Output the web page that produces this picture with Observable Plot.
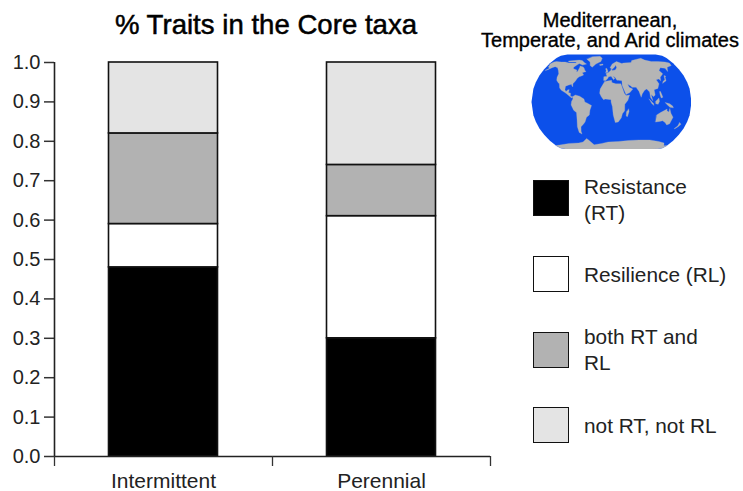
<!DOCTYPE html>
<html>
<head>
<meta charset="utf-8">
<script src="https://cdn.jsdelivr.net/npm/d3@7"></script>
<script src="https://cdn.jsdelivr.net/npm/@observablehq/plot@0.6"></script>
<style>
html,body{margin:0;padding:0;background:#fff;}
#root{position:relative;width:743px;height:491px;overflow:hidden;font-family:"Liberation Sans",Arial,sans-serif;}
#chart,#map{position:absolute;}
#chart{left:0;top:0;}
#map{left:531px;top:54px;}
.t{position:absolute;white-space:nowrap;}
#title{left:66px;width:400px;top:10px;text-align:center;font-size:27.6px;color:#000;-webkit-text-stroke:.5px #000;line-height:30px;}
#mapTitle{left:460px;width:300px;top:10px;text-align:center;font-size:20px;line-height:20px;color:#000;-webkit-text-stroke:.35px #000;}
.sw{position:absolute;left:533px;width:34px;height:34px;border:1.5px solid #111;}
.lab{position:absolute;left:584px;font-size:20.8px;line-height:26px;color:#222;}
</style>
</head>
<body>
<div id="root"></div>
<script>
const categories = ["Intermittent", "Perennial"];
const traits = ["Resistance (RT)", "Resilience (RL)", "both RT and RL", "not RT, not RL"];
const legendLines = [["Resistance", "(RT)"], ["Resilience (RL)"], ["both RT and", "RL"], ["not RT, not RL"]];
const traitColors = ["#000000", "#ffffff", "#b2b2b2", "#e4e4e4"];
const intermittent = [0.48, 0.11, 0.23, 0.18];
const perennial = [0.30, 0.31, 0.13, 0.26];
const yTicks = [0, 0.1, 0.2, 0.3, 0.4, 0.5, 0.6, 0.7, 0.8, 0.9, 1];
const xBoundaries = [0, 1, 2];

// Coarse continent outlines as [lon, lat]
const northAmerica = [[-168,66],[-162,70],[-156,71],[-140,70],[-128,70],[-115,68],[-108,68],[-95,68],[-94,72],[-85,70],[-82,68],[-88,64],[-94,60],[-92,57],[-82,55],[-80,51],[-78,53],[-77,60],[-78,62],[-70,61],[-65,59],[-60,54],[-56,52],[-65,50],[-60,46],[-66,44],[-70,43],[-74,40],[-76,36],[-81,31],[-80,26],[-82,27],[-84,30],[-90,29],[-97,27],[-97,21],[-94,18],[-90,21],[-87,21],[-88,16],[-83,15],[-83,10],[-78,9],[-80,7],[-85,10],[-92,14],[-96,16],[-105,20],[-110,24],[-113,31],[-117,33],[-122,37],[-124,42],[-124,48],[-130,54],[-137,59],[-146,61],[-152,59],[-160,55],[-165,54],[-158,58],[-165,61],[-165,64]];
const arcticIslands = [[-120,72],[-105,73],[-90,74],[-80,73],[-68,68],[-62,66],[-72,64],[-80,66],[-90,70],[-105,70],[-118,70]];
const greenland = [[-55,82],[-30,83],[-20,78],[-22,71],[-35,66],[-43,60],[-50,63],[-54,70],[-68,76]];
const iceland = [[-24,65],[-15,66],[-14,64],[-22,63]];
const southAmerica = [[-78,9],[-72,12],[-62,10],[-52,5],[-50,0],[-44,-2],[-35,-6],[-39,-14],[-41,-22],[-48,-26],[-53,-34],[-58,-38],[-65,-42],[-68,-50],[-68,-55],[-74,-52],[-74,-42],[-71,-30],[-70,-18],[-76,-14],[-81,-5],[-80,1],[-77,5]];
const africa = [[-6,35],[10,37],[11,33],[20,31],[32,31],[36,22],[39,15],[43,11],[51,12],[47,3],[40,-4],[40,-15],[35,-20],[33,-27],[26,-34],[19,-35],[14,-22],[12,-8],[9,0],[9,4],[-4,5],[-8,4],[-13,9],[-17,15],[-16,22],[-10,30]];
const madagascar = [[49,-12],[50,-16],[47,-25],[44,-24],[44,-17]];
const eurasia = [[-9,37],[-9,43],[-1,44],[-4,48],[3,51],[8,54],[9,57],[12,54],[20,55],[24,59],[22,64],[18,60],[12,56],[6,59],[12,66],[25,71],[40,67],[45,68],[68,69],[72,73],[90,76],[105,78],[113,74],[130,71],[150,71],[170,70],[180,68],[178,63],[163,60],[156,52],[155,58],[143,59],[135,54],[140,48],[130,42],[128,36],[125,39],[118,38],[122,31],[117,23],[108,21],[109,12],[105,9],[100,13],[103,2],[98,8],[97,17],[91,22],[86,20],[80,14],[77,8],[73,18],[67,25],[57,25],[56,27],[48,30],[51,25],[59,22],[52,16],[43,13],[35,28],[35,36],[27,37],[23,37],[20,41],[13,45],[18,40],[15,38],[9,44],[3,43],[0,39],[-5,36]];
const greatBritain = [[-5,50],[1,51],[0,54],[-3,58],[-6,57],[-4,54]];
const japan = [[131,32],[136,34],[141,36],[142,42],[145,44],[141,45],[139,38],[133,35]];
const sumatra = [[95,5],[104,-2],[106,-6],[101,-3]];
const borneo = [[109,1],[117,7],[118,1],[115,-4],[110,-3]];
const newGuinea = [[131,-1],[141,-3],[148,-7],[150,-10],[142,-9],[136,-5]];
const philippines = [[120,18],[122,18],[126,8],[122,7],[120,13]];
const australia = [[114,-22],[122,-18],[129,-15],[136,-12],[136,-15],[141,-17],[142,-11],[146,-19],[153,-26],[150,-37],[144,-39],[138,-35],[131,-32],[124,-33],[115,-34]];
const newZealand = [[173,-35],[178,-38],[174,-42],[168,-46],[167,-45],[172,-41]];
const antarctica = [[-180,-78],[-150,-76],[-120,-73],[-90,-72],[-75,-70],[-60,-63],[-56,-66],[-45,-76],[-20,-73],[0,-70],[30,-69],[60,-67],[90,-66],[120,-66],[150,-69],[170,-72],[180,-78],[180,-90],[90,-90],[0,-90],[-90,-90],[-180,-90]];
const landParts = [northAmerica, arcticIslands, greenland, iceland, southAmerica, africa, madagascar, eurasia, greatBritain, japan, sumatra, borneo, newGuinea, philippines, australia, newZealand, antarctica];

// Long-form table for the stacked bars
const rows = categories.flatMap((c, i) => {
  const vals = i === 0 ? intermittent : perennial;
  return traits.map((t, k) => ({category: c, index: i, trait: t, value: vals[k]}));
});
const root = document.getElementById("root");

const chart = Plot.plot({
  width: 500, height: 491,
  marginLeft: 54, marginRight: 10, marginTop: 62, marginBottom: 35,
  style: {fontFamily: '"Liberation Sans",Arial,sans-serif', fontSize: "20px", color: "#222", background: "transparent"},
  x: {type: "linear", domain: [0, 2], axis: null},
  y: {type: "linear", domain: [0, 1], axis: null},
  color: {type: "ordinal", domain: traits, range: traitColors},
  marks: [
    Plot.rectY(rows, {
      x1: d => d.index + 0.25, x2: d => d.index + 0.75, y: "value",
      fill: "trait", stroke: "#111", strokeWidth: 1.6, order: null
    }),
    Plot.axisY({ticks: yTicks, tickFormat: d3.format(".1f"), tickSize: 10, tickPadding: 4, stroke: "#333", strokeWidth: 1.5, fontSize: 20, label: null}),
    Plot.ruleX([0], {y1: 0, y2: 1, stroke: "#222", strokeWidth: 1.6}),
    Plot.ruleY([0], {stroke: "#222", strokeWidth: 1.6}),
    Plot.axisX({ticks: xBoundaries, tickFormat: () => "", tickSize: 10, stroke: "#333", strokeWidth: 1.3, label: null}),
    Plot.text(categories, {
      x: (d, i) => i + 0.5, y: () => 0, text: d => d,
      dy: 25, fontSize: 21, fill: "#222"
    })
  ]
});
chart.id = "chart";
root.appendChild(chart);

// Map: a stretched Natural Earth shape, centred a little east of Greenwich
const raw = d3.geoNaturalEarth1Raw;
const stretched = (l, p) => { const [x, y] = raw(l, p); return [x, y * 1.14]; };
const proj = d3.geoProjection(stretched).rotate([-10, 0]).precision(0.5)
  .fitExtent([[0, 0], [160, 95]], {type: "Sphere"});
const land = landParts.map(ring => {
  const closed = [...ring, ring[0]];
  const f = {type: "Polygon", coordinates: [closed]};
  return d3.geoArea(f) > 2 * Math.PI ? {type: "Polygon", coordinates: [closed.slice().reverse()]} : f;
});
const map = Plot.plot({
  width: 160, height: 95, margin: 0,
  projection: proj,
  style: {background: "transparent"},
  marks: [
    Plot.sphere({fill: "#0c50ea", stroke: "none"}),
    Plot.geo(land, {fill: "#b5b5b5", stroke: "#a9b2c8", strokeWidth: 0.3})
  ]
});
map.id = "map";
root.appendChild(map);

function addText(cls, id, lines, top) {
  const d = document.createElement("div");
  d.className = cls;
  if (id) d.id = id;
  if (top != null) d.style.top = top + "px";
  d.innerHTML = lines.join("<br>");
  root.appendChild(d);
}
addText("t", "title", ["% Traits in the Core taxa"]);
addText("t", "mapTitle", ["Mediterranean,", "Temperate, and Arid climates"]);
const swatchTops = [180, 256, 332, 407];
const labelTops = [174, 262, 324, 413];
traits.forEach((t, i) => {
  const s = document.createElement("div");
  s.className = "sw";
  s.style.top = swatchTops[i] + "px";
  s.style.background = traitColors[i];
  root.appendChild(s);
  addText("lab", null, legendLines[i], labelTops[i]);
});
</script>
</body>
</html>
